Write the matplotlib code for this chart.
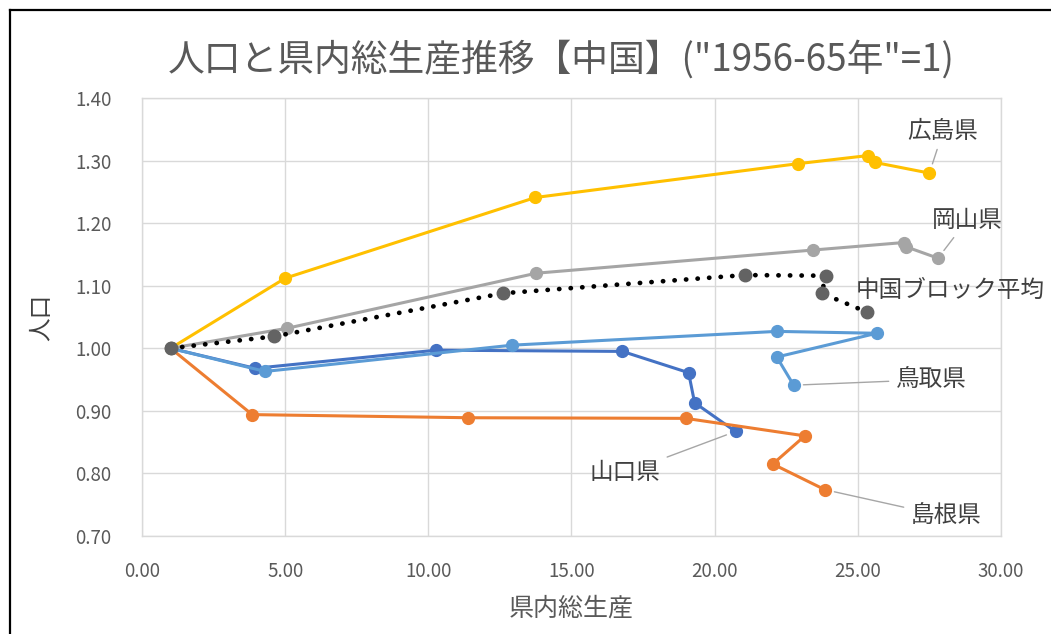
import matplotlib.pyplot as plt
from matplotlib.lines import Line2D

plt.rcParams['font.family'] = ['Noto Sans CJK JP', 'DejaVu Sans']

# 県内総生産 (x) と 人口 (y), 1956-65年 = 1
tottori_x = [1.00, 4.30, 12.93, 22.17, 25.66, 22.17, 22.76]
tottori_y = [1.000, 0.963, 1.005, 1.027, 1.024, 0.986, 0.941]

shimane_x = [1.00, 3.85, 11.40, 18.99, 23.15, 22.03, 23.85]
shimane_y = [1.000, 0.894, 0.889, 0.888, 0.860, 0.815, 0.774]

okayama_x = [1.00, 5.07, 13.77, 23.43, 26.60, 26.70, 27.80]
okayama_y = [1.000, 1.032, 1.120, 1.157, 1.169, 1.162, 1.144]

hiroshima_x = [1.00, 5.00, 13.74, 22.90, 25.35, 25.60, 27.50]
hiroshima_y = [1.000, 1.112, 1.241, 1.295, 1.308, 1.297, 1.280]

yamaguchi_x = [1.00, 3.95, 10.28, 16.78, 19.09, 19.30, 20.73]
yamaguchi_y = [1.000, 0.968, 0.997, 0.995, 0.961, 0.913, 0.867]

avg_x = [1.00, 4.62, 12.62, 21.05, 23.88, 23.74, 25.31]
avg_y = [1.000, 1.019, 1.088, 1.117, 1.116, 1.088, 1.058]

x_ticks = [0, 5, 10, 15, 20, 25, 30]
y_ticks = [0.70, 0.80, 0.90, 1.00, 1.10, 1.20, 1.30, 1.40]

fig = plt.figure(figsize=(10.51, 6.34), dpi=100)
ax = fig.add_axes([0.1351, 0.1546, 0.8173, 0.6908])

txt = '#595959'
grid = '#D9D9D9'

series = [
    ('山口県', yamaguchi_x, yamaguchi_y, '#4472C4'),
    ('島根県', shimane_x, shimane_y, '#ED7D31'),
    ('岡山県', okayama_x, okayama_y, '#A5A5A5'),
    ('広島県', hiroshima_x, hiroshima_y, '#FFC000'),
    ('鳥取県', tottori_x, tottori_y, '#5B9BD5'),
]
for name, xs, ys, c in series:
    ax.plot(xs, ys, color=c, lw=2.2, marker='o', ms=8.5, mec=c, mfc=c, zorder=3)

ax.plot(avg_x, avg_y, color='black', lw=3.4, linestyle=(0, (0.05, 2.4)),
        dash_capstyle='round', zorder=4)
ax.plot(avg_x, avg_y, linestyle='none', marker='o', ms=9, mfc='#636363',
        mec='#636363', zorder=5)

ax.set_xlim(0, 30)
ax.set_ylim(0.70, 1.40)
ax.set_xticks(x_ticks)
ax.set_yticks(y_ticks)
ax.set_xticklabels(['%.2f' % v for v in x_ticks])
ax.set_yticklabels(['%.2f' % v for v in y_ticks])
ax.tick_params(length=0, colors=txt, labelsize=13.5)
ax.tick_params(axis='x', pad=18)
ax.tick_params(axis='y', pad=22)
ax.grid(True, color=grid, lw=1)
ax.set_axisbelow(True)
for s in ax.spines.values():
    s.set_color(grid)
    s.set_linewidth(1)

ax.set_xlabel('県内総生産', fontsize=18, color=txt, labelpad=10)
ax.set_ylabel('人口', fontsize=17, color='#404040', labelpad=16)
fig.text(0.534, 0.905, '人口と県内総生産推移【中国】("1956-65年"=1)',
         ha='center', va='center', fontsize=26.5, color=txt)

# データラベル
lead = dict(arrowstyle='-', color='#A6A6A6', lw=1, shrinkA=3, shrinkB=7)
lab = dict(fontsize=17, color='#404040', ha='center', va='center')
ax.annotate('広島県', xy=(hiroshima_x[-1], hiroshima_y[-1]), xytext=(27.98, 1.347),
            arrowprops=lead, **lab)
ax.annotate('岡山県', xy=(okayama_x[-1], okayama_y[-1]), xytext=(28.82, 1.205),
            arrowprops=lead, **lab)
ax.annotate('中国ブロック平均', xy=(avg_x[-1], avg_y[-1]), xytext=(28.22, 1.093), **lab)
ax.annotate('鳥取県', xy=(tottori_x[-1], tottori_y[-1]), xytext=(27.56, 0.950),
            arrowprops=lead, **lab)
ax.annotate('島根県', xy=(shimane_x[-1], shimane_y[-1]), xytext=(28.08, 0.731),
            arrowprops=lead, **lab)
ax.annotate('山口県', xy=(yamaguchi_x[-1], yamaguchi_y[-1]), xytext=(16.87, 0.801),
            arrowprops=lead, **lab)

# 外枠 (上・左)
fig.add_artist(Line2D([9.5 / 1051, 9.5 / 1051], [0, 1 - 9.5 / 634], color='black', lw=1.6,
                      transform=fig.transFigure))
fig.add_artist(Line2D([9.5 / 1051, 1], [1 - 9.5 / 634, 1 - 9.5 / 634], color='black', lw=1.6,
                      transform=fig.transFigure))

fig.savefig('out.png', dpi=100)
